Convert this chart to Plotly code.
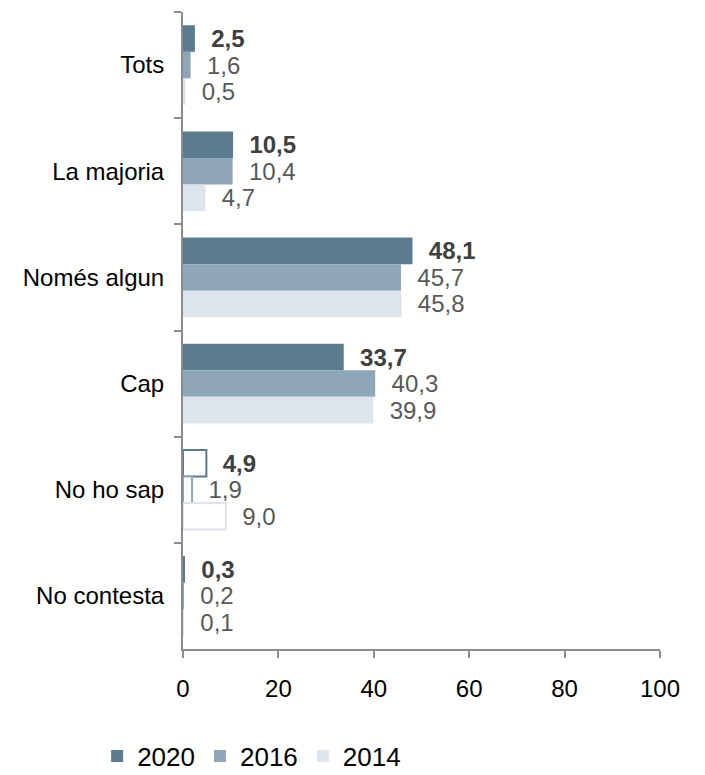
import plotly.graph_objects as go

categories = ["Tots", "La majoria", "Només algun", "Cap", "No ho sap", "No contesta"]
years = ["2020", "2016", "2014"]
values_2020 = [2.5, 10.5, 48.1, 33.7, 4.9, 0.3]
values_2016 = [1.6, 10.4, 45.7, 40.3, 1.9, 0.2]
values_2014 = [0.5, 4.7, 45.8, 39.9, 9.0, 0.1]
x_ticks = [0, 20, 40, 60, 80, 100]

colors = {"2020": "#5b7b8e", "2016": "#8fa6b9", "2014": "#dde4eb"}
label_colors = {"2020": "#404040", "2016": "#595959", "2014": "#595959"}
outlined_category = "No ho sap"

def fmt(v):
    return "\u00a0\u00a0" + f"{v:.1f}".replace(".", ",")

fig = go.Figure()
for year, vals in zip(years, [values_2020, values_2016, values_2014]):
    c = colors[year]
    fills = ["#ffffff" if cat == outlined_category else c for cat in categories]
    lws = [2 if cat == outlined_category else 0 for cat in categories]
    fig.add_trace(go.Bar(
        name=year,
        y=categories,
        x=vals,
        orientation="h",
        marker=dict(color=fills, line=dict(color=c, width=lws)),
        text=[fmt(v) for v in vals],
        textposition="outside",
        constraintext="none",
        cliponaxis=False,
        textfont=dict(family="Liberation Sans, Arial, sans-serif", size=24,
                      color=label_colors[year],
                      weight="bold" if year == "2020" else "normal"),
        hoverinfo="skip",
    ))

fig.update_layout(
    width=705, height=775,
    margin=dict(l=175, r=53, t=4, b=129),
    paper_bgcolor="white", plot_bgcolor="white",
    barmode="group", bargap=0.25, bargroupgap=0,
    font=dict(family="Liberation Sans, Arial, sans-serif", size=24, color="#000000"),
    showlegend=True,
    legend=dict(orientation="h", x=-0.18, xanchor="left", y=-0.168, yanchor="middle",
                font=dict(size=26, color="#000000"), traceorder="normal",
                itemclick=False),
    xaxis=dict(range=[0, 100], tickvals=x_ticks, ticks="outside", ticklen=7,
               tickcolor="#8c8c8c", tickwidth=2, showline=True, linecolor="#8c8c8c",
               linewidth=2, showgrid=False, zeroline=False, ticklabelstandoff=10),
    yaxis=dict(categoryorder="array", categoryarray=categories, autorange="reversed",
               tickson="boundaries", ticks="outside", ticklen=7, tickcolor="#8c8c8c",
               tickwidth=2, showline=True, linecolor="#8c8c8c", linewidth=2,
               showgrid=False, zeroline=False, ticklabelstandoff=12),
)

fig.write_html("out.html")
